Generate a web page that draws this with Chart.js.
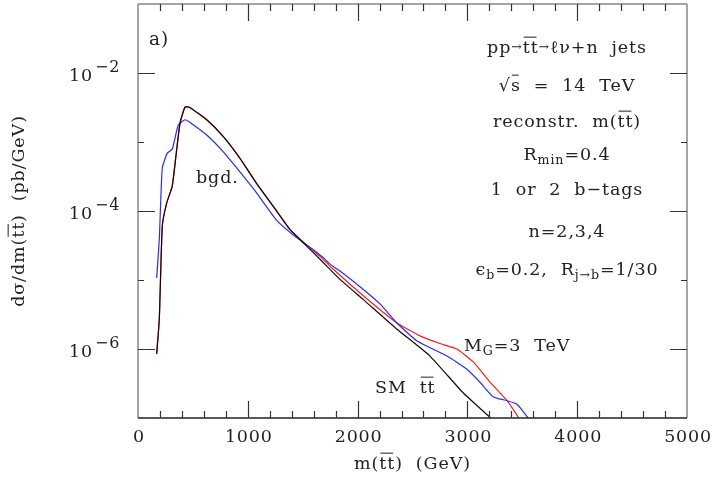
<!DOCTYPE html>
<html>
<head>
<meta charset="utf-8">
<script src="https://cdn.jsdelivr.net/npm/chart.js@4.4.1/dist/chart.umd.min.js"></script>
<style>
  html, body { margin: 0; padding: 0; background: #fff; }
  #wrap { width: 714px; height: 479px; }
</style>
</head>
<body>
<div id="wrap"><canvas id="myChart" width="714" height="479"></canvas></div>
<script>
// SM ttbar background (black)
const massSM = [170, 194, 221, 261, 312, 352, 383, 428, 467, 626, 777, 929, 1081, 1232, 1384, 1536, 1658, 1840, 2052, 2356, 2659, 2963, 3206, 3250];
const xsecSM = [8.5e-7, 2.7e-6, 6.0e-5, 1.3e-4, 2.3e-4, 7.7e-4, 1.9e-3, 3.2e-3, 3.2e-3, 2.1e-3, 1.2e-3, 5.8e-4, 2.5e-4, 1.17e-4, 5.4e-5, 3.1e-5, 2.0e-5, 1.02e-5, 5.2e-6, 1.95e-6, 7.9e-7, 2.3e-7, 1.02e-7, 8.5e-8];

// signal + background, M_G = 3 TeV (red)
const massSig = [170, 194, 221, 261, 312, 352, 383, 428, 467, 626, 777, 929, 1081, 1232, 1384, 1536, 1658, 1749, 2052, 2356, 2568, 2750, 2903, 3054, 3206, 3361, 3464, 3500];
const xsecSig = [8.5e-7, 2.7e-6, 6.0e-5, 1.3e-4, 2.3e-4, 7.7e-4, 1.9e-3, 3.2e-3, 3.2e-3, 2.1e-3, 1.2e-3, 5.8e-4, 2.5e-4, 1.17e-4, 5.4e-5, 3.2e-5, 2.2e-5, 1.58e-5, 5.9e-6, 2.4e-6, 1.55e-6, 1.2e-6, 1.0e-6, 6.5e-7, 3.3e-7, 1.78e-7, 1.02e-7, 8e-8];

// second curve (blue)
const massAlt = [170, 194, 221, 267, 312, 367, 428, 474, 626, 777, 899, 1081, 1263, 1414, 1597, 1680, 1749, 1840, 2052, 2204, 2356, 2538, 2814, 2996, 3115, 3233, 3361, 3452, 3543, 3570];
const xsecAlt = [1.07e-5, 3.9e-5, 4.2e-4, 6.9e-4, 7.9e-4, 1.76e-3, 2.1e-3, 1.92e-3, 1.26e-3, 7.2e-4, 4.2e-4, 1.82e-4, 7.3e-5, 4.5e-5, 2.75e-5, 2.15e-5, 1.7e-5, 1.35e-5, 7.3e-6, 4.5e-6, 2.4e-6, 1.32e-6, 7.9e-7, 5.1e-7, 3.3e-7, 2.04e-7, 1.78e-7, 1.58e-7, 1.05e-7, 9e-8];

const xTickLabels = [0, 1000, 2000, 3000, 4000, 5000];
const yTickPowers = [-2, -4, -6];

const FONT = '"DejaVu Serif", serif';
const INK = '#222';
const SZ = 17.5;

function pts(xs, ys) {
  return xs.map((x, i) => ({ x: x, y: ys[i] }));
}

// draws a line of text made of parts: {t, sub, sup, over, small}
function richWidth(ctx, parts, size) {
  let w = 0;
  for (const p of parts) {
    const s = (p.sub || p.sup || p.small) ? size * 0.72 : size;
    ctx.font = s + 'px ' + FONT;
    w += ctx.measureText(p.t).width;
  }
  return w;
}

function drawRich(ctx, parts, x, y, size, align) {
  ctx.save();
  ctx.letterSpacing = '0.9px';
  ctx.textBaseline = 'middle';
  ctx.textAlign = 'left';
  ctx.fillStyle = INK;
  ctx.strokeStyle = INK;
  const w = richWidth(ctx, parts, size);
  let cx = x;
  if (align === 'center') cx = x - w / 2;
  if (align === 'right') cx = x - w;
  for (const p of parts) {
    const s = (p.sub || p.sup || p.small) ? size * 0.72 : size;
    ctx.font = s + 'px ' + FONT;
    let dy = 0;
    if (p.sub) dy = size * 0.3;
    if (p.sup) dy = -size * 0.42;
    const pw = ctx.measureText(p.t).width;
    ctx.fillText(p.t, cx, y + dy);
    if (p.over) {
      ctx.lineWidth = 1;
      ctx.beginPath();
      ctx.moveTo(cx + 1, y - size * 0.62);
      ctx.lineTo(cx + pw - 2, y - size * 0.62);
      ctx.stroke();
    }
    cx += pw;
  }
  ctx.restore();
}

const framePlugin = {
  id: 'frame',
  afterDraw(chart) {
    const ctx = chart.ctx;
    const xs = chart.scales.x;
    const ys = chart.scales.y;
    const a = chart.chartArea;
    ctx.save();

    // frame
    ctx.lineWidth = 1.5;
    ctx.strokeStyle = '#888';
    ctx.beginPath();
    ctx.moveTo(a.left, a.top); ctx.lineTo(a.left, a.bottom);
    ctx.moveTo(a.right, a.top); ctx.lineTo(a.right, a.bottom);
    ctx.moveTo(a.left, a.top); ctx.lineTo(a.right, a.top);
    ctx.stroke();
    ctx.strokeStyle = '#222';
    ctx.beginPath();
    ctx.moveTo(a.left, a.bottom); ctx.lineTo(a.right, a.bottom);
    ctx.stroke();

    // x ticks, every 200 GeV, major every 1000
    ctx.lineWidth = 1.2;
    ctx.strokeStyle = '#333';
    ctx.beginPath();
    for (let v = 200; v < 5000; v += 200) {
      const px = Math.round(xs.getPixelForValue(v)) + 0.5;
      const len = (v % 1000 === 0) ? 17 : 7;
      ctx.moveTo(px, a.bottom); ctx.lineTo(px, a.bottom - len);
      ctx.moveTo(px, a.top); ctx.lineTo(px, a.top + len);
    }
    // y ticks, every decade, major at even powers
    for (let p = -6; p <= -2; p++) {
      const py = Math.round(ys.getPixelForValue(Math.pow(10, p))) + 0.5;
      const len = (p % 2 === 0) ? 17 : 6;
      ctx.moveTo(a.left, py); ctx.lineTo(a.left + len, py);
      ctx.moveTo(a.right, py); ctx.lineTo(a.right - len, py);
    }
    ctx.stroke();

    // x tick labels
    ctx.fillStyle = INK;
    ctx.font = SZ + 'px ' + FONT;
    ctx.letterSpacing = '0.8px';
    ctx.textAlign = 'center';
    ctx.textBaseline = 'middle';
    for (const v of xTickLabels) {
      ctx.fillText(String(v), xs.getPixelForValue(v) + 1, a.bottom + 19);
    }

    // y tick labels 10^p
    for (const p of yTickPowers) {
      const py = ys.getPixelForValue(Math.pow(10, p));
      ctx.font = SZ + 'px ' + FONT;
      ctx.textAlign = 'left';
      ctx.fillText('10', 69, py + 3);
      ctx.font = '16px ' + FONT;
      ctx.fillText('\u2212' + (-p), 95, py - 5);
    }
    ctx.restore();

    // axis titles
    drawRich(ctx, [{ t: 'm(' }, { t: 'tt', over: true }, { t: ')  (GeV)' }],
      (a.left + a.right) / 2, a.bottom + 46, SZ, 'center');
    ctx.save();
    ctx.translate(19, (a.top + a.bottom) / 2);
    ctx.rotate(-Math.PI / 2);
    drawRich(ctx, [{ t: 'd\u03c3/dm(' }, { t: 'tt', over: true }, { t: ')  (pb/GeV)' }],
      0, 0, SZ, 'center');
    ctx.restore();

    // annotations
    drawRich(ctx, [{ t: 'a)' }], 149, 40, 18.5, 'left');
    drawRich(ctx, [{ t: 'bgd.' }], 196, 178, SZ, 'left');
    drawRich(ctx, [{ t: 'M' }, { t: 'G', sub: true }, { t: '=3  TeV' }], 464, 346, SZ, 'left');
    drawRich(ctx, [{ t: 'SM  ' }, { t: 'tt', over: true }], 375, 388, SZ, 'left');

    const cx = 567;
    drawRich(ctx, [{ t: 'pp' }, { t: '\u2192', small: true }, { t: 'tt', over: true },
      { t: '\u2192', small: true }, { t: '\u2113\u03bd+n  jets' }], cx, 48, SZ, 'center');
    drawRich(ctx, [{ t: '\u221a' }, { t: 's', over: true }, { t: '  =  14  TeV' }], cx, 86, SZ, 'center');
    drawRich(ctx, [{ t: 'reconstr.  m(' }, { t: 'tt', over: true }, { t: ')' }], cx, 122, SZ, 'center');
    drawRich(ctx, [{ t: 'R' }, { t: 'min', sub: true }, { t: '=0.4' }], cx, 155, SZ, 'center');
    drawRich(ctx, [{ t: '1  or  2  b\u2212tags' }], cx, 190, SZ, 'center');
    drawRich(ctx, [{ t: 'n=2,3,4' }], cx, 232, SZ, 'center');
    drawRich(ctx, [{ t: '\u03f5' }, { t: 'b', sub: true }, { t: '=0.2,  R' }, { t: 'j\u2192b', sub: true },
      { t: '=1/30' }], cx, 270, SZ, 'center');
  }
};

// dataset 0 is drawn on top
const data = {
  datasets: [
    { label: 'SM tt', data: pts(massSM, xsecSM), borderColor: '#1a0505', borderWidth: 1.2 },
    { label: 'blue', data: pts(massAlt, xsecAlt), borderColor: '#2a2aff', borderWidth: 1.2 },
    { label: 'M_G = 3 TeV', data: pts(massSig, xsecSig), borderColor: '#ff1a1a', borderWidth: 1.2 },
  ],
};
data.datasets.forEach((d) => {
  d.showLine = true;
  d.pointRadius = 0;
  d.fill = false;
  d.tension = 0.15;
});

const config = {
  type: 'scatter',
  data,
  options: {
    responsive: false,
    animation: false,
    layout: { padding: { left: 138, right: 27, top: 4, bottom: 61 } },
    plugins: { legend: { display: false }, tooltip: { enabled: false } },
    scales: {
      x: { type: 'linear', min: 0, max: 5000, display: false },
      y: { type: 'logarithmic', min: 1e-7, max: 1e-1, display: false },
    },
  },
  plugins: [framePlugin],
};

const myChart = new Chart(document.querySelector('#myChart'), config);
</script>
</body>
</html>
